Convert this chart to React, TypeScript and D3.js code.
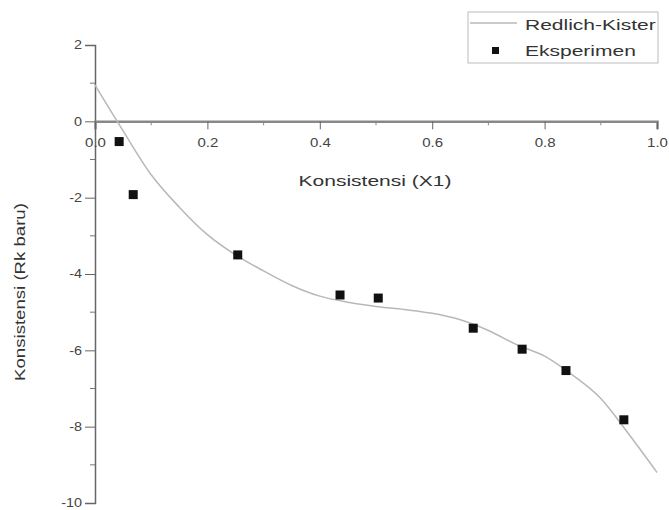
import { useEffect, useRef } from 'react';
import * as d3 from 'd3';

const curveX = [0, 0.05, 0.1, 0.15, 0.2, 0.25, 0.3, 0.35, 0.4, 0.45, 0.5, 0.55, 0.6, 0.65, 0.7, 0.75, 0.8, 0.85, 0.9, 0.95, 1.0];
const curveY = [0.95, -0.25, -1.4, -2.25, -2.97, -3.5, -3.92, -4.3, -4.58, -4.74, -4.85, -4.93, -5.03, -5.2, -5.48, -5.85, -6.15, -6.65, -7.26, -8.2, -9.2];

const expX = [0.043, 0.068, 0.254, 0.436, 0.504, 0.673, 0.76, 0.838, 0.941];
const expY = [-0.53, -1.92, -3.5, -4.55, -4.63, -5.42, -5.97, -6.53, -7.82];

const xTicks = [0, 0.2, 0.4, 0.6, 0.8, 1.0];
const yTicks = [2, 0, -2, -4, -6, -8, -10];

const FONT = '"Liberation Sans", Arial, sans-serif';

// the source picture has horizontally stretched lettering
function stretch(sel: d3.Selection<any, any, any, any>, k: number) {
  sel.each(function () {
    const t = this as SVGTextElement;
    const w = t.getComputedTextLength();
    t.setAttribute('textLength', String(w * k));
    t.setAttribute('lengthAdjust', 'spacingAndGlyphs');
  });
}

export default function App() {
  const svgRef = useRef<SVGSVGElement>(null);

  useEffect(() => {
    if (!svgRef.current) return;
    const svg = d3.select(svgRef.current);
    svg.selectAll('*').remove();

    const x = d3.scaleLinear().domain([0, 1]).range([95, 657]);
    const y = d3.scaleLinear().domain([2, -10]).range([45, 503]);

    // y axis
    const yAxis = svg.append('g')
      .attr('transform', `translate(${x(0)},0)`)
      .call(d3.axisLeft(y).tickValues(yTicks).tickSize(10).tickPadding(3).tickFormat(d => `${d}`));
    yAxis.select('.domain').attr('stroke', '#666').attr('stroke-width', 1.5);
    yAxis.selectAll('line').attr('stroke', '#666');
    const yLbl = yAxis.selectAll('text').attr('fill', '#444').attr('font-family', FONT).attr('font-size', 12);
    stretch(yLbl as any, 1.2);

    const yMinor = d3.range(1, -10, -2);
    svg.append('g').selectAll('line').data(yMinor).join('line')
      .attr('x1', x(0) - 5).attr('x2', x(0))
      .attr('y1', d => y(d)).attr('y2', d => y(d))
      .attr('stroke', '#777');

    // x axis at y = 0
    const xAxis = svg.append('g')
      .attr('transform', `translate(0,${y(0)})`)
      .call(d3.axisBottom(x).tickValues(xTicks).tickSize(8).tickPadding(9).tickFormat(d3.format('.1f')));
    xAxis.select('.domain').attr('stroke', '#888').attr('stroke-width', 2.5);
    xAxis.selectAll('line').attr('stroke', '#666');
    const xLbl = xAxis.selectAll('text').attr('fill', '#444').attr('font-family', FONT).attr('font-size', 12);
    stretch(xLbl as any, 1.25);

    const xMinor = [0.1, 0.3, 0.5, 0.7, 0.9];
    svg.append('g').selectAll('line').data(xMinor).join('line')
      .attr('x1', d => x(d)).attr('x2', d => x(d))
      .attr('y1', y(0)).attr('y2', y(0) + 4)
      .attr('stroke', '#888');

    // axis titles
    const xt = svg.append('text')
      .attr('x', 375).attr('y', 186)
      .attr('text-anchor', 'middle')
      .attr('font-family', FONT).attr('font-size', 15).attr('fill', '#333')
      .text('Konsistensi (X1)');
    stretch(xt, 1.4);

    const yt = svg.append('text')
      .attr('transform', 'translate(25,292) rotate(-90)')
      .attr('text-anchor', 'middle')
      .attr('font-family', FONT).attr('font-size', 15).attr('fill', '#333')
      .text('Konsistensi (Rk baru)');
    stretch(yt, 1.24);

    // Redlich-Kister curve
    const pts = curveX.map((d, i) => [d, curveY[i]] as [number, number]);
    const line = d3.line<[number, number]>()
      .x(d => x(d[0]))
      .y(d => y(d[1]))
      .curve(d3.curveMonotoneX);
    svg.append('path')
      .datum(pts)
      .attr('fill', 'none')
      .attr('stroke', '#b8b8b8')
      .attr('stroke-width', 1.5)
      .attr('d', line);

    // experiment points
    const s = 9;
    svg.append('g').selectAll('rect').data(expX.map((d, i) => [d, expY[i]])).join('rect')
      .attr('x', d => x(d[0]) - s / 2)
      .attr('y', d => y(d[1]) - s / 2)
      .attr('width', s).attr('height', s)
      .attr('fill', '#111');

    // legend
    const lg = svg.append('g');
    lg.append('rect')
      .attr('x', 468).attr('y', 12).attr('width', 190).attr('height', 51)
      .attr('fill', 'white').attr('stroke', '#bbb').attr('stroke-width', 1);
    lg.append('line')
      .attr('x1', 470).attr('x2', 517).attr('y1', 23).attr('y2', 23)
      .attr('stroke', '#b8b8b8').attr('stroke-width', 1.5);
    const l1 = lg.append('text')
      .attr('x', 525).attr('y', 30)
      .attr('font-family', FONT).attr('font-size', 15).attr('fill', '#333')
      .text('Redlich-Kister');
    stretch(l1, 1.4);
    lg.append('rect')
      .attr('x', 492).attr('y', 47).attr('width', 7).attr('height', 7)
      .attr('fill', '#111');
    const l2 = lg.append('text')
      .attr('x', 525).attr('y', 56)
      .attr('font-family', FONT).attr('font-size', 15).attr('fill', '#333')
      .text('Eksperimen');
    stretch(l2, 1.4);
  }, []);

  return (
    <svg
      ref={svgRef}
      width={669}
      height={510}
      style={{ position: 'absolute', left: 0, top: 0, background: 'white' }}
    />
  );
}
